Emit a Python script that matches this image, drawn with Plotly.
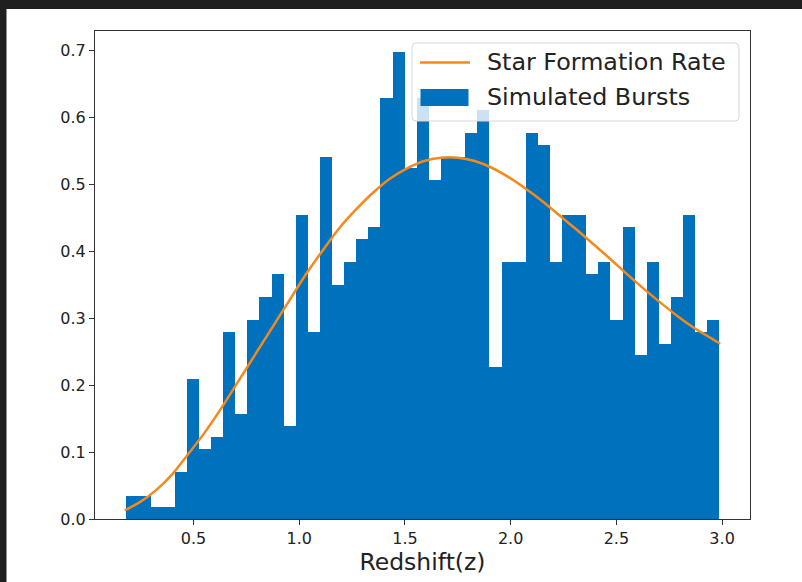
import plotly.graph_objects as go

# ---------------- data ----------------
n_bursts = 1000
z_first_edge = 0.182
bin_width = 0.05725
burst_counts = [2, 2, 1, 1, 4, 12, 6, 7, 16, 9, 17, 19, 21, 8, 26, 16, 31, 20, 22, 24,
                25, 36, 40, 30, 36, 29, 31, 31, 33, 35, 13, 22, 22, 33, 32, 22, 26, 26, 21, 22,
                17, 25, 14, 22, 15, 19, 26, 16, 17]

sfr_z = [0.175, 0.25, 0.33, 0.40, 0.47, 0.55, 0.63, 0.71, 0.79, 0.87, 0.95, 1.03, 1.11,
         1.19, 1.27, 1.35, 1.43, 1.51, 1.59, 1.67, 1.75, 1.83, 1.91, 1.99, 2.07, 2.15,
         2.23, 2.31, 2.39, 2.47, 2.55, 2.63, 2.71, 2.79, 2.87, 2.95, 2.991]
sfr_val = [0.013, 0.026, 0.045, 0.067, 0.095, 0.128, 0.165, 0.205, 0.245, 0.285, 0.325,
           0.365, 0.401, 0.435, 0.463, 0.488, 0.509, 0.524, 0.535, 0.540, 0.540, 0.535,
           0.525, 0.511, 0.494, 0.475, 0.454, 0.433, 0.411, 0.389, 0.366, 0.344, 0.323,
           0.303, 0.285, 0.270, 0.262]

x_ticks = [0.5, 1.0, 1.5, 2.0, 2.5, 3.0]
y_ticks = [0.0, 0.1, 0.2, 0.3, 0.4, 0.5, 0.6, 0.7]

# ---------------- derived histogram ----------------
bin_centers = [z_first_edge + (i + 0.5) * bin_width for i in range(len(burst_counts))]
density = [c / (n_bursts * bin_width) for c in burst_counts]

BLUE = "#0071bc"
ORANGE = "#f5891c"
FONT = "DejaVu Sans"

W, H = 802, 582
L, R, T, B = 95, 750, 31, 519


def px(xpix):
    return (xpix - L) / (R - L)


def py(ypix):
    return (B - ypix) / (B - T)


fig = go.Figure()
fig.add_trace(go.Bar(x=bin_centers, y=density, width=bin_width,
                     marker=dict(color=BLUE, line=dict(width=0)),
                     name="Simulated Bursts", showlegend=False))
fig.add_trace(go.Scatter(x=sfr_z, y=sfr_val, mode="lines",
                         line=dict(color=ORANGE, width=2.5, shape="spline", smoothing=0.8),
                         name="Star Formation Rate", showlegend=False))

shapes = []
# dark window frame (top and left)
shapes.append(dict(type="rect", xref="paper", yref="paper", x0=px(0), x1=px(W),
                   y0=py(9), y1=py(0), fillcolor="#1f1f1f", line=dict(width=0), layer="above"))
shapes.append(dict(type="rect", xref="paper", yref="paper", x0=px(0), x1=px(6.5),
                   y0=py(H), y1=py(0), fillcolor="#1f1f1f", line=dict(width=0), layer="above"))

# legend box (rounded)
lx0, lx1, ly0, ly1, rr = 412, 739, 43, 121, 4
path = (f"M {px(lx0+rr)},{py(ly0)} L {px(lx1-rr)},{py(ly0)} "
        f"Q {px(lx1)},{py(ly0)} {px(lx1)},{py(ly0+rr)} "
        f"L {px(lx1)},{py(ly1-rr)} Q {px(lx1)},{py(ly1)} {px(lx1-rr)},{py(ly1)} "
        f"L {px(lx0+rr)},{py(ly1)} Q {px(lx0)},{py(ly1)} {px(lx0)},{py(ly1-rr)} "
        f"L {px(lx0)},{py(ly0+rr)} Q {px(lx0)},{py(ly0)} {px(lx0+rr)},{py(ly0)} Z")
shapes.append(dict(type="path", xref="paper", yref="paper", path=path,
                   fillcolor="rgba(255,255,255,0.8)", line=dict(color="#d6d6d6", width=1),
                   layer="above"))
shapes.append(dict(type="line", xref="paper", yref="paper", x0=px(420), x1=px(470),
                   y0=py(62.5), y1=py(62.5), line=dict(color=ORANGE, width=2.5), layer="above"))
shapes.append(dict(type="rect", xref="paper", yref="paper", x0=px(420.5), x1=px(468.5),
                   y0=py(106), y1=py(89), fillcolor=BLUE, line=dict(width=0), layer="above"))

annotations = [
    dict(xref="paper", yref="paper", x=px(485), y=py(62.5), xanchor="left", yanchor="middle",
         text="Star Formation Rate", showarrow=False, font=dict(family=FONT, size=23.8, color="#222")),
    dict(xref="paper", yref="paper", x=px(485), y=py(97), xanchor="left", yanchor="middle",
         text="Simulated Bursts", showarrow=False, font=dict(family=FONT, size=23.8, color="#222")),
]

fig.update_layout(
    width=W, height=H,
    margin=dict(l=L, r=W - R, t=T, b=H - B),
    paper_bgcolor="white", plot_bgcolor="white",
    bargap=0, showlegend=False,
    shapes=shapes, annotations=annotations,
    font=dict(family=FONT, color="#222"),
    xaxis=dict(range=[0.034, 3.132], tickvals=x_ticks, ticktext=[f"{v:.1f}" for v in x_ticks],
               ticks="outside", ticklen=5, tickwidth=1, tickcolor="#333",
               showline=True, linecolor="#333", linewidth=1, mirror=True,
               showgrid=False, zeroline=False, tickfont=dict(size=16, color="#222"),
               title=dict(text="Redshift(z)", font=dict(size=23.5, color="#222"), standoff=4)),
    yaxis=dict(range=[0, 0.7294], tickvals=y_ticks, ticktext=[f"{v:.1f}" for v in y_ticks],
               ticks="outside", ticklen=5, tickwidth=1, tickcolor="#333",
               showline=True, linecolor="#333", linewidth=1, mirror=True,
               showgrid=False, zeroline=False, tickfont=dict(size=16, color="#222")),
)

fig.write_html("out.html")
